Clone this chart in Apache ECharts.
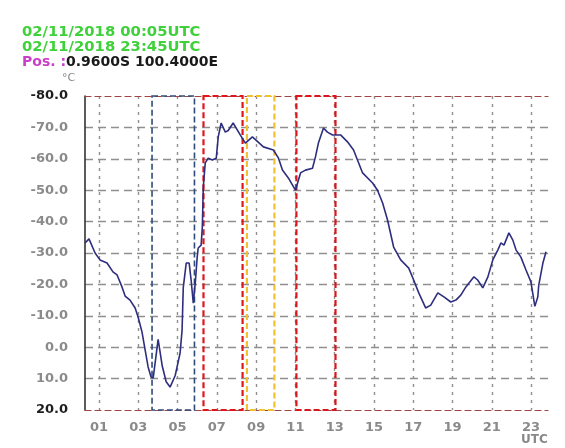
<!DOCTYPE html>
<html>
<head>
<meta charset="UTF-8">
<title>Cloud top temperature</title>
<style>
  html, body { margin: 0; padding: 0; background: #fff; }
  #main { width: 565px; height: 448px; }
</style>
</head>
<body>
<div id="main"></div>
<script src="https://cdn.jsdelivr.net/npm/echarts@6/dist/echarts.min.js"></script>
<script>
// hours (UTC) along the x axis
var hours = [0.29, 0.49, 0.80, 1.05, 1.41, 1.71, 1.92, 2.17, 2.33, 2.58, 2.84, 2.99, 3.19, 3.35, 3.50, 3.65, 3.76,
  4.01, 4.22, 4.42, 4.62, 4.88, 5.13, 5.23, 5.29, 5.44, 5.59, 5.69, 5.80, 5.90, 6.00, 6.05, 6.20, 6.26, 6.31, 6.41,
  6.56, 6.77, 6.97, 7.07, 7.22, 7.43, 7.58, 7.83, 8.19, 8.45, 8.81, 9.37, 9.88, 10.13, 10.34, 10.64, 11.00, 11.26,
  11.51, 11.87, 12.02, 12.17, 12.43, 12.63, 12.89, 13.30, 13.65, 13.96, 14.42, 14.93, 15.18, 15.44, 15.69, 16.00,
  16.36, 16.77, 17.02, 17.28, 17.63, 17.89, 18.25, 18.56, 18.91, 19.17, 19.42, 19.68, 20.09, 20.28, 20.54, 20.80,
  21.05, 21.31, 21.46, 21.62, 21.87, 22.07, 22.23, 22.48, 22.74, 22.99, 23.19, 23.34, 23.39, 23.60, 23.76];
// temperature (°C)
var temps = [-33.2, -34.5, -30.0, -27.8, -26.8, -24.0, -23.0, -19.2, -16.3, -15.0, -12.5, -9.6, -4.8, 0.9, 6.3, 9.5, 9.8,
  -2.5, 6.0, 11.0, 12.7, 9.0, 1.8, -5.5, -19.0, -26.8, -26.8, -21.4, -14.0, -20.4, -28.7, -31.6, -32.5, -38.3, -51.0, -58.7,
  -60.2, -59.6, -60.2, -67.0, -71.4, -68.5, -69.0, -71.4, -67.6, -65.0, -67.0, -63.8, -62.8, -60.3, -56.4, -53.9, -50.0, -55.5,
  -56.4, -57.0, -60.6, -65.0, -69.8, -68.5, -67.6, -67.6, -65.4, -62.8, -55.5, -52.3, -50.0, -45.9, -40.5, -31.9,
  -27.8, -25.2, -21.4, -17.3, -12.5, -13.4, -17.3, -16.0, -14.4, -15.0, -16.6, -19.2, -22.4, -21.4, -18.9, -22.4,
  -27.8, -31.0, -33.2, -32.5, -36.4, -34.1, -31.0, -28.7, -24.6, -20.8, -13.0, -16.0, -19.8, -26.8, -30.4];

var hourTicks = [1, 3, 5, 7, 9, 11, 13, 15, 17, 19, 21, 23];
var hourLabels = ['01', '03', '05', '07', '09', '11', '13', '15', '17', '19', '21', '23'];

// highlighted periods [start hour, end hour, colour]
var boxStart = [3.70, 6.32, 8.53, 11.05];
var boxEnd = [5.86, 8.31, 9.93, 13.04];
var boxColor = ['#2f4b7c', '#e0161b', '#f2c12e', '#d8161b'];

var titleLines = ['02/11/2018 00:05UTC', '02/11/2018 23:45UTC'];
var posLabel = 'Pos. :';
var posValue = '0.9600S 100.4000E';

var seriesData = hours.map(function (h, i) { return [h, temps[i]]; });

var boxes = boxStart.map(function (s, i) {
  return [
    { xAxis: s, itemStyle: { color: 'rgba(0,0,0,0)', borderColor: boxColor[i], borderWidth: i == 0 ? 1.6 : 2.2, borderType: [6, 3] } },
    { xAxis: boxEnd[i] }
  ];
});

var font = 'DejaVu Sans, Verdana, sans-serif';
var chart = echarts.init(document.getElementById('main'));

chart.setOption({
  backgroundColor: '#fff',
  animation: false,
  title: {
    left: 22, top: 25, padding: 0,
    text: '{g|' + titleLines[0] + '}\n{g|' + titleLines[1] + '}\n{m|' + posLabel + '}{k|' + posValue + '}',
    textStyle: {
      fontFamily: font, fontSize: 14, fontWeight: 'bold', lineHeight: 15,
      rich: {
        g: { color: '#3fd13a', fontFamily: font, fontSize: 14.8, fontWeight: 'bold', lineHeight: 15 },
        m: { color: '#c93fc9', fontFamily: font, fontSize: 14, fontWeight: 'bold', lineHeight: 15 },
        k: { color: '#1a1a1a', fontFamily: font, fontSize: 14, fontWeight: 'bold', lineHeight: 15 }
      }
    }
  },
  graphic: [
    { type: 'text', left: 62, top: 73, style: { text: '°C', fill: '#888', font: '11px ' + font } },
    { type: 'text', left: 521, top: 434, style: { text: 'UTC', fill: '#888', font: 'bold 12px ' + font } }
  ],
  grid: { left: 85, right: 17, top: 96, bottom: 38 },
  xAxis: [{
    type: 'value',
    min: 0.287, max: 23.86,
    axisLine: { show: true, onZero: false, lineStyle: { color: '#a04545', type: [6, 4], width: 1.2 } },
    axisTick: { show: false, customValues: hourTicks },
    axisLabel: {
      customValues: hourTicks,
      formatter: function (v) { return hourLabels[hourTicks.indexOf(v)]; },
      color: '#8a8a8a', fontFamily: font, fontSize: 13, fontWeight: 'bold', margin: 11
    },
    splitLine: { show: true, lineStyle: { color: '#8f8f8f', type: [3, 5], width: 1.4 } }
  }, {
    type: 'value', position: 'top',
    min: 0.287, max: 23.86,
    axisLine: { show: true, onZero: false, lineStyle: { color: '#a04545', type: [6, 4], width: 1.2 } },
    axisTick: { show: false }, axisLabel: { show: false }, splitLine: { show: false }
  }],
  yAxis: {
    type: 'value',
    inverse: true,
    min: -80, max: 20, interval: 10,
    axisLine: { show: true, onZero: false, lineStyle: { color: '#333', width: 1.6 } },
    axisTick: { show: false },
    axisLabel: {
      margin: 17,
      formatter: function (v) { return v.toFixed(1); },
      color: function (v) { return (v == -80 || v == 20) ? '#1e1e1e' : '#8a8a8a'; },
      fontFamily: font, fontSize: 13, fontWeight: 'bold'
    },
    splitLine: { show: true, showMinLine: false, showMaxLine: false, lineStyle: { color: '#8f8f8f', type: [8, 5], width: 1.4 } }
  },
  series: [{
    type: 'line',
    data: seriesData,
    showSymbol: false,
    smooth: false,
    lineStyle: { color: '#2e2e7e', width: 1.6 },
    markArea: { silent: true, data: boxes },
    z: 3
  }]
});
</script>
</body>
</html>
